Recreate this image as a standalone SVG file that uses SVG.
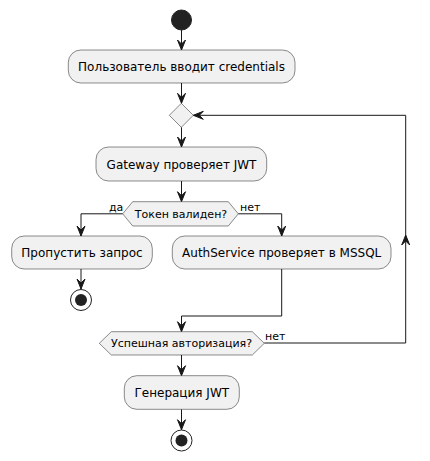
<svg xmlns="http://www.w3.org/2000/svg" width="430" height="461" viewBox="0 0 430 461">
<style>
.act{fill:#F1F1F1;stroke:#181818;stroke-width:0.5}
.dec{fill:#F1F1F1;stroke:#181818;stroke-width:0.5}
.t{font-family:"DejaVu Sans",sans-serif;font-size:12px;fill:#000;text-anchor:middle}
.td{font-family:"DejaVu Sans",sans-serif;font-size:11px;fill:#000;text-anchor:middle}
.tl{font-family:"DejaVu Sans",sans-serif;font-size:11px;fill:#000}
.ln{fill:none;stroke:#181818;stroke-width:1}
.ah{fill:#181818;stroke:#181818;stroke-width:1}
</style>
<rect width="430" height="461" fill="#FFFFFF"/>
<g id="connectors">
<path class="ln" d="M181.5,30 V50"/>
<polygon class="ah" points="177.5,40 181.5,50 185.5,40 181.5,44"/>
<path class="ln" d="M181.5,83 V103.3"/>
<polygon class="ah" points="177.5,93.3 181.5,103.3 185.5,93.3 181.5,97.3"/>
<path class="ln" d="M181.5,127.3 V147"/>
<polygon class="ah" points="177.5,137 181.5,147 185.5,137 181.5,141"/>
<path class="ln" d="M181.5,181 V201.7"/>
<polygon class="ah" points="177.5,191.7 181.5,201.7 185.5,191.7 181.5,195.7"/>
<path class="ln" d="M122.7,213.8 H81 V236"/>
<polygon class="ah" points="77,226 81,236 85,226 81,230"/>
<path class="ln" d="M238.3,213.8 H281.7 V236"/>
<polygon class="ah" points="277.7,226 281.7,236 285.7,226 281.7,230"/>
<path class="ln" d="M81,269 V289"/>
<polygon class="ah" points="77,279 81,289 85,279 81,283"/>
<path class="ln" d="M281.7,269 V316 H181.5 V331.7"/>
<polygon class="ah" points="177.5,321.7 181.5,331.7 185.5,321.7 181.5,325.7"/>
<path class="ln" d="M264.3,343 H405.7 V115.3 H193.3"/>
<polygon class="ah" points="203.3,111.3 193.3,115.3 203.3,119.3 199.3,115.3"/>
<polygon class="ah" points="401.7,245 405.7,235 409.7,245 405.7,241"/>
<path class="ln" d="M181.5,355 V375.7"/>
<polygon class="ah" points="177.5,365.7 181.5,375.7 185.5,365.7 181.5,369.7"/>
<path class="ln" d="M181.5,409.3 V429.7"/>
<polygon class="ah" points="177.5,419.7 181.5,429.7 185.5,419.7 181.5,423.7"/>
<text class="tl" x="109" y="211">да</text>
<text class="tl" x="240" y="211">нет</text>
<text class="tl" x="265" y="340">нет</text>
</g>
<g id="start"><circle cx="181.5" cy="20" r="10" fill="#222222" stroke="#222222" stroke-width="1"/></g>
<g id="a1"><rect class="act" x="68.3" y="50" width="226.7" height="33" rx="12.5"/><text class="t" x="181.5" y="71">Пользователь вводит credentials</text></g>
<g id="merge"><polygon class="dec" points="169.3,115.3 181.3,103.3 193.3,115.3 181.3,127.3"/></g>
<g id="a2"><rect class="act" x="96" y="147" width="170.7" height="34" rx="12.5"/><text class="t" x="181.5" y="168.5">Gateway проверяет JWT</text></g>
<g id="d1"><polygon class="dec" points="122.7,213.8 132.7,201.7 228.3,201.7 238.3,213.8 228.3,226 132.7,226"/><text class="td" x="181" y="217.5">Токен валиден?</text></g>
<g id="a3"><rect class="act" x="11.7" y="236" width="140.6" height="33" rx="12.5"/><text class="t" x="82" y="257">Пропустить запрос</text></g>
<g id="stop1"><circle cx="81" cy="300" r="10.5" fill="none" stroke="#222222" stroke-width="1"/><circle cx="81" cy="300" r="6" fill="#222222"/></g>
<g id="a4"><rect class="act" x="172.3" y="236" width="218.7" height="33" rx="12.5"/><text class="t" x="281.7" y="257">AuthService проверяет в MSSQL</text></g>
<g id="d2"><polygon class="dec" points="99.3,343.3 111.3,331.7 252.3,331.7 264.3,343.3 252.3,355 111.3,355"/><text class="td" x="181.5" y="347">Успешная авторизация?</text></g>
<g id="a5"><rect class="act" x="124.3" y="375.7" width="115" height="33.6" rx="12.5"/><text class="t" x="181.8" y="397">Генерация JWT</text></g>
<g id="stop2"><circle cx="181.5" cy="440.5" r="10.5" fill="none" stroke="#222222" stroke-width="1"/><circle cx="181.5" cy="440.5" r="6" fill="#222222"/></g>
</svg>
